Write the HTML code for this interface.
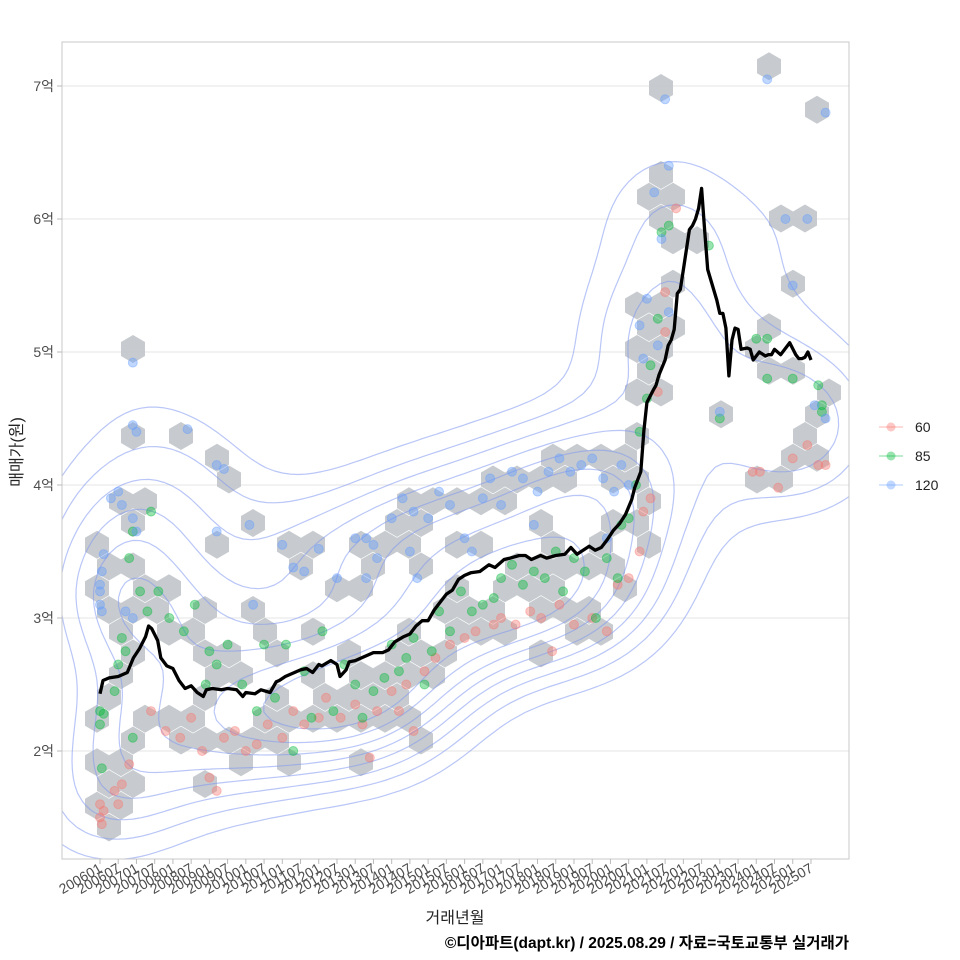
<!DOCTYPE html>
<html><head><meta charset="utf-8">
<style>
html,body{margin:0;padding:0;background:#fff;}
svg{display:block;font-family:"Liberation Sans","Noto Sans CJK KR",sans-serif;}
</style></head>
<body>
<svg id="chart" width="960" height="960" viewBox="0 0 960 960">
  <rect x="0" y="0" width="960" height="960" fill="#fff"/>
  <g id="grid"></g>
  <g id="hexes"></g>
  <g id="contours"></g>
  <g id="points"></g>
  <g id="line"></g>
  <rect x="62" y="42" width="787" height="817" fill="none" stroke="#c8c8c8" stroke-width="1"/>
  <g id="yaxis"></g>
  <g id="xaxis"></g>
  <text x="22" y="452" transform="rotate(-90 22 452)" text-anchor="middle" font-size="16" fill="#222">매매가(원)</text>
  <text x="455" y="923" text-anchor="middle" font-size="16" fill="#222">거래년월</text>
  <text x="849" y="948" text-anchor="end" font-size="15.5" font-weight="bold" fill="#000">©디아파트(dapt.kr) / 2025.08.29 / 자료=국토교통부 실거래가</text>
  <g id="legend"></g>
</svg>
<script>
// ---- data ----
const yTicks = [2, 3, 4, 5, 6, 7];
const xTickLabels = [];
for (let y = 2006; y <= 2025; y++) { xTickLabels.push(y + "01"); xTickLabels.push(y + "07"); }
const lineMonths = [0,1,3,6,9,11,13,15,16,17,19,20,22,24,26,28,30,32,34,35,37,40,42,45,47,48,51,53,56,58,59,61,64,66,68,70,72,73,76,78,79,81,82,84,87,90,93,95,97,100,102,104,106,108,110,112,114,116,118,120,122,125,128,130,133,135,138,140,142,145,147,150,153,155,157,159,161,163,165,167,169,171,173,175,176,178,179,180,182,183,184,186,187,188,189,190,191,192,193,194,195,196,197,198,199,200,203,204,205,206,207,208,209,210,211,213,214,215,217,219,220,221,222,224,227,229,230,231,232,233,234];
const lineValues = [2.43,2.53,2.55,2.56,2.59,2.70,2.77,2.86,2.94,2.92,2.83,2.70,2.64,2.62,2.53,2.47,2.49,2.44,2.41,2.46,2.47,2.46,2.47,2.46,2.41,2.44,2.43,2.46,2.44,2.52,2.53,2.56,2.59,2.61,2.62,2.59,2.65,2.64,2.68,2.65,2.56,2.61,2.67,2.68,2.71,2.74,2.74,2.76,2.82,2.86,2.88,2.94,2.98,2.98,3.06,3.12,3.18,3.21,3.29,3.32,3.34,3.35,3.40,3.38,3.44,3.45,3.47,3.47,3.44,3.47,3.45,3.47,3.48,3.53,3.48,3.51,3.54,3.51,3.53,3.59,3.66,3.71,3.78,3.89,3.98,4.10,4.41,4.62,4.71,4.75,4.83,4.94,5.05,5.09,5.17,5.44,5.47,5.62,5.77,5.92,5.95,6.00,6.08,6.23,5.92,5.62,5.39,5.29,5.29,5.18,4.82,5.09,5.18,5.17,5.02,5.03,5.02,4.94,5.00,4.97,4.98,4.98,5.02,4.98,5.07,4.98,4.95,4.95,4.96,5.00,4.94,4.94,4.89,4.86];
const seriesNames = ["60", "85", "120"];
const seriesColors = ["#F8766D", "#00BA38", "#619CFF"];
const pts60 = [[2006.0,1.6],[2006.0,1.5],[2006.05,1.45],[2006.1,1.55],[2006.4,1.7],[2006.5,1.6],[2006.6,1.75],[2006.8,1.9],[2007.4,2.3],[2007.8,2.15],[2008.2,2.1],[2008.5,2.25],[2008.8,2.0],[2009.0,1.8],[2009.2,1.7],[2009.4,2.1],[2009.7,2.15],[2010.0,2.0],[2010.3,2.05],[2010.6,2.2],[2011.0,2.1],[2011.3,2.3],[2011.6,2.2],[2012.0,2.25],[2012.2,2.4],[2012.6,2.25],[2013.0,2.35],[2013.2,2.2],[2013.4,1.95],[2013.6,2.3],[2014.0,2.45],[2014.2,2.3],[2014.4,2.5],[2014.6,2.15],[2014.9,2.6],[2015.2,2.7],[2015.6,2.8],[2016.0,2.85],[2016.3,2.9],[2016.8,2.95],[2017.0,3.0],[2017.4,2.95],[2017.8,3.05],[2018.1,3.0],[2018.4,2.75],[2018.6,3.1],[2019.0,2.95],[2019.5,3.0],[2019.9,2.9],[2020.2,3.25],[2020.5,3.3],[2020.8,3.5],[2020.9,3.8],[2021.1,3.9],[2021.3,4.7],[2021.5,5.45],[2021.8,6.08],[2021.5,5.15],[2024.1,4.1],[2024.6,3.98],[2025.0,4.2],[2025.4,4.3],[2025.7,4.15],[2025.9,4.15],[2023.9,4.1]];
const pts85 = [[2006.0,2.2],[2006.0,2.3],[2006.1,2.28],[2006.05,1.87],[2006.4,2.45],[2006.5,2.65],[2006.6,2.85],[2006.7,2.75],[2006.9,2.1],[2006.8,3.45],[2006.9,3.65],[2007.1,3.2],[2007.4,3.8],[2007.3,3.05],[2007.6,3.2],[2007.9,3.0],[2008.3,2.9],[2008.6,3.1],[2008.9,2.5],[2009.0,2.75],[2009.2,2.65],[2009.5,2.8],[2009.9,2.5],[2010.3,2.3],[2010.5,2.8],[2010.8,2.4],[2011.1,2.8],[2011.3,2.0],[2011.6,2.6],[2011.8,2.25],[2012.1,2.9],[2012.4,2.3],[2012.7,2.65],[2013.0,2.5],[2013.2,2.25],[2013.5,2.45],[2013.8,2.55],[2014.0,2.8],[2014.2,2.6],[2014.4,2.7],[2014.6,2.85],[2014.9,2.5],[2015.1,2.75],[2015.3,3.05],[2015.6,2.9],[2015.9,3.2],[2016.2,3.05],[2016.5,3.1],[2016.8,3.15],[2017.0,3.3],[2017.3,3.4],[2017.6,3.25],[2017.9,3.35],[2018.2,3.3],[2018.5,3.5],[2018.7,3.2],[2019.0,3.45],[2019.3,3.35],[2019.6,3.0],[2019.9,3.45],[2020.2,3.3],[2020.3,3.7],[2020.5,3.75],[2020.7,4.0],[2020.8,4.4],[2021.0,4.65],[2021.1,4.9],[2021.3,5.25],[2021.4,5.9],[2021.6,5.95],[2022.7,5.8],[2023.0,4.5],[2024.0,5.1],[2024.3,5.1],[2024.3,4.8],[2025.0,4.8],[2025.7,4.75],[2025.8,4.6],[2025.8,4.55]];
const pts120 = [[2006.0,3.25],[2006.0,3.2],[2006.05,3.35],[2006.1,3.48],[2006.0,3.1],[2006.05,3.05],[2006.3,3.9],[2006.5,3.95],[2006.6,3.85],[2006.9,3.0],[2006.7,3.05],[2006.9,4.92],[2006.9,4.45],[2007.0,4.4],[2006.9,3.75],[2007.0,3.65],[2008.4,4.42],[2009.2,4.15],[2009.4,4.12],[2009.2,3.65],[2010.1,3.7],[2010.2,3.1],[2011.0,3.55],[2011.3,3.38],[2011.6,3.35],[2012.0,3.52],[2012.5,3.3],[2013.0,3.6],[2013.3,3.6],[2013.5,3.55],[2013.3,3.3],[2013.6,3.45],[2014.0,3.75],[2014.3,3.9],[2014.6,3.8],[2014.5,3.5],[2014.7,3.3],[2015.0,3.75],[2015.3,3.95],[2015.6,3.85],[2016.0,3.6],[2016.2,3.5],[2016.5,3.9],[2016.7,4.05],[2017.0,3.85],[2017.3,4.1],[2017.6,4.05],[2017.9,3.7],[2018.0,3.95],[2018.3,4.1],[2018.6,4.2],[2018.9,4.1],[2019.2,4.15],[2019.5,4.2],[2019.8,4.05],[2020.1,3.95],[2020.3,4.15],[2020.5,4.0],[2019.9,3.6],[2021.0,5.4],[2020.9,4.95],[2020.8,5.2],[2021.3,5.05],[2021.6,5.3],[2021.2,6.2],[2021.5,6.9],[2021.6,6.4],[2021.4,5.85],[2024.3,7.05],[2024.8,6.0],[2025.0,5.5],[2025.4,6.0],[2025.9,6.8],[2025.6,4.6],[2025.9,4.5],[2023.0,4.55]];
const seriesPoints = [pts60, pts85, pts120];

// ---- scales ----
const NS = "http://www.w3.org/2000/svg";
const X0 = 100, PX_PER_YEAR = 36.46;
function xYear(yr){ return X0 + (yr - 2006) * PX_PER_YEAR; }
function xMonth(m){ return xYear(2006 + m / 12); }
function yVal(v){ return 751 - (v - 2) * 133; }
function mk(tag, attrs, parent){ const e = document.createElementNS(NS, tag); for (const k in attrs) e.setAttribute(k, attrs[k]); parent.appendChild(e); return e; }

const grid = document.getElementById('grid'), yax = document.getElementById('yaxis');
yTicks.forEach(v => {
  const gl = mk('line', {x1:62, x2:849, y1:yVal(v), y2:yVal(v), stroke:'#e6e6e6', 'stroke-width':1}, grid);
  
  
  const tk = mk('line', {x1:57, x2:62, y1:yVal(v), y2:yVal(v), stroke:'#bbb'}, yax);
  
  
  const t = mk('text', {x:54, y:yVal(v)+5, 'text-anchor':'end', 'font-size':14, fill:'#4d4d4d'}, yax);
  t.textContent = v + '억';
  
  
});

const xax = document.getElementById('xaxis');
xTickLabels.forEach((lab, i) => {
  const x = xMonth(i * 6);
  const tk = mk('line', {x1:x, x2:x, y1:859, y2:864, stroke:'#bbb'}, xax);
  
  
  const t = mk('text', {x:x+3, y:871, 'text-anchor':'end', 'font-size':14, fill:'#4d4d4d', transform:`rotate(-30 ${x+3} 871)`}, xax);
  t.textContent = lab;
  
  
});

const hexG = document.getElementById('hexes');
const HW = 24, RS = 21.75, HY0 = 349, HX0 = 133, HH = 14;
const cells = {};
seriesPoints.forEach(arr => arr.forEach(p => {
  const px = xYear(p[0]), py = yVal(p[1]);
  let best = null, bd = 1e9;
  const r0 = Math.round((py - HY0) / RS);
  for (let r = r0 - 1; r <= r0 + 1; r++) {
    const off = ((r % 2) + 2) % 2 ? HW / 2 : 0;
    const c0 = Math.round((px - HX0 - off) / HW);
    for (let c = c0 - 1; c <= c0 + 1; c++) {
      const cx = HX0 + off + c * HW, cy = HY0 + r * RS;
      const d = (cx - px) ** 2 + (cy - py) ** 2;
      if (d < bd) { bd = d; best = [cx, cy]; }
    }
  }
  cells[best[0].toFixed(1) + ',' + best[1].toFixed(1)] = best;
}));
Object.values(cells).forEach(([cx, cy]) => {
  const h = HW / 2;
  const pts = [[cx, cy-HH],[cx+h, cy-HH/2],[cx+h, cy+HH/2],[cx, cy+HH],[cx-h, cy+HH/2],[cx-h, cy-HH/2]].map(p => p.join(',')).join(' ');
  const hx = mk('polygon', {points:pts, fill:'#c4c8cc', 'fill-opacity':0.95}, hexG);
  
  
});

const contG = document.getElementById('contours');
const allPts = [].concat(pts60, pts85, pts120).map(p => [xYear(p[0]), yVal(p[1])]);
const GX = 100, GY = 100, gx0 = 62, gy0 = 42, gw = 787, gh = 817;
const bwX = 60, bwY = 48;
const dens = [];
for (let j = 0; j <= GY; j++) { dens.push([]); for (let i = 0; i <= GX; i++) {
  const x = gx0 + gw * i / GX, y = gy0 + gh * j / GY; let s = 0;
  allPts.forEach(p => { const dx = (x - p[0]) / bwX, dy = (y - p[1]) / bwY; s += Math.exp(-0.5 * (dx*dx + dy*dy)); });
  dens[j].push(s);
}}
let mx = 0; dens.forEach(r => r.forEach(v => { if (v > mx) mx = v; }));
const levels = [0.18, 0.28, 0.38, 0.48, 0.58, 0.68, 0.78, 0.88].map(f => f * mx);
let dpath = '';
levels.forEach(L => {
  for (let j = 0; j < GY; j++) for (let i = 0; i < GX; i++) {
    const v = [dens[j][i], dens[j][i+1], dens[j+1][i+1], dens[j+1][i]];
    const P = [[i, j], [i+1, j], [i+1, j+1], [i, j+1]];
    const cr = [];
    for (let k = 0; k < 4; k++) {
      const a = v[k], b = v[(k+1)%4];
      if ((a < L) !== (b < L)) {
        const t = (L - a) / (b - a), pa = P[k], pb = P[(k+1)%4];
        cr.push([gx0 + gw * (pa[0] + t*(pb[0]-pa[0])) / GX, gy0 + gh * (pa[1] + t*(pb[1]-pa[1])) / GY]);
      }
    }
    for (let k = 0; k + 1 < cr.length; k += 2) dpath += `M${cr[k][0].toFixed(1)},${cr[k][1].toFixed(1)}L${cr[k+1][0].toFixed(1)},${cr[k+1][1].toFixed(1)}`;
  }
});
const cp = mk('path', {d:dpath, fill:'none', stroke:'#7f97f0', 'stroke-opacity':0.55, 'stroke-width':1.2}, contG);



const ptG = document.getElementById('points');
seriesPoints.forEach((arr, si) => arr.forEach(p => {
  const c = mk('circle', {cx:xYear(p[0]), cy:yVal(p[1]), r:4.5, fill:seriesColors[si], 'fill-opacity':0.4, stroke:seriesColors[si], 'stroke-opacity':0.4}, ptG);
  
  
}));

const lineG = document.getElementById('line');
const ld = lineMonths.map((m, i) => (i ? 'L' : 'M') + xMonth(m).toFixed(1) + ',' + yVal(lineValues[i]).toFixed(1)).join('');
const lp = mk('path', {d:ld, fill:'none', stroke:'#000', 'stroke-width':3.3, 'stroke-linejoin':'round'}, lineG);



const lg = document.getElementById('legend');
seriesNames.forEach((n, i) => {
  const y = 427 + i * 29;
  const g = mk('g', {}, lg);
  
  
  mk('line', {x1:879, x2:903, y1:y, y2:y, stroke:seriesColors[i], 'stroke-opacity':0.35, 'stroke-width':1.5}, g);
  mk('circle', {cx:891, cy:y, r:4.5, fill:seriesColors[i], 'fill-opacity':0.4}, g);
  const t = mk('text', {x:915, y:y+5, 'font-size':14, fill:'#222'}, g);
  t.textContent = n;
});
</script>
</body></html>
